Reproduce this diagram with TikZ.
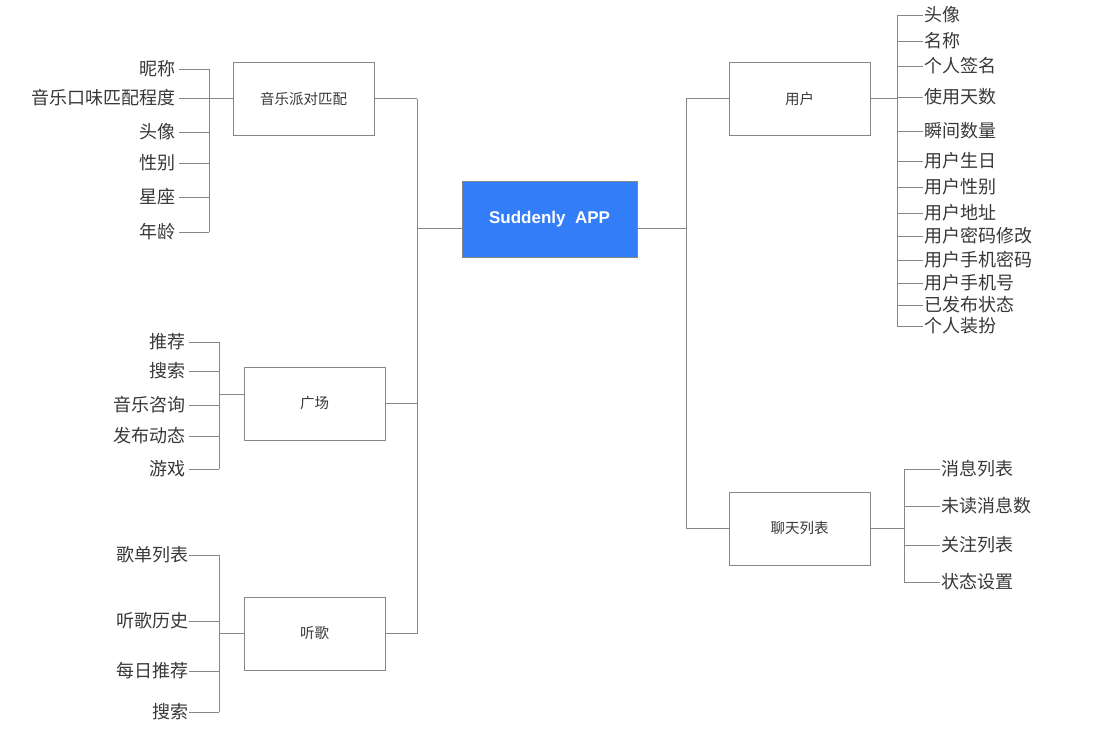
\documentclass[tikz,border=0pt]{standalone}
\usepackage{fontspec}
\setmainfont{Noto Sans CJK SC}
\newfontfamily\appfont{Liberation Sans}
\definecolor{linegray}{HTML}{878787}
\definecolor{textgray}{HTML}{383838}
\definecolor{appblue}{HTML}{337DF9}
\tikzset{
	box/.style={draw=linegray, line width=1pt, minimum width=141pt, minimum height=73pt, inner sep=0pt, text=textgray, font=\fontsize{14.5}{16}\selectfont},
	leafL/.style={anchor=east, inner ysep=0pt, inner xsep=3.5pt, text=textgray, font=\fontsize{18}{20}\selectfont},
	leafR/.style={anchor=west, inner ysep=0pt, inner xsep=1pt, text=textgray, font=\fontsize{18}{20}\selectfont},
	conn/.style={draw=linegray, line width=1pt}
}
\begin{document}
\begin{tikzpicture}[x=1pt, y=-1pt]
\useasboundingbox (0,0) rectangle (1098,745);

\node[draw=linegray, fill=appblue, line width=1pt, minimum width=175pt, minimum height=76pt, text=white, font=\appfont\bfseries\fontsize{17}{20}\selectfont] (app) at (549.5,219) {Suddenly~~APP};

\node[box] (party) at (303.5,98.5) {音乐派对匹配};
\node[box] (plaza) at (314.5,403.5) {广场};
\node[box] (listen) at (314.5,633.5) {听歌};
\node[box] (user) at (799.5,98.5) {用户};
\node[box] (chat) at (799.5,528.5) {聊天列表};

\coordinate (spineL) at (417,0);
\coordinate (spineR) at (686,0);
\coordinate (brA) at (209,0);
\coordinate (brB) at (219,0);
\coordinate (brC) at (897,0);
\coordinate (brD) at (904,0);

% Tronco izquierdo
	\draw[conn] ([yshift=-9pt]app.west) -- ([yshift=-9pt]app.west -| spineL);
	\draw[conn] (party.east -| spineL) -- (listen.east -| spineL);
	\foreach \b in {party, plaza, listen}
		\draw[conn] (\b.east) -- (\b.east -| spineL);

% Tronco derecho
	\draw[conn] ([yshift=-9pt]app.east) -- ([yshift=-9pt]app.east -| spineR);
	\draw[conn] (user.west -| spineR) -- (chat.west -| spineR);
	\foreach \b in {user, chat}
		\draw[conn] (\b.west) -- (\b.west -| spineR);

% Hojas: musica
	\foreach \y/\t [count=\i] in {69/昵称, 98/音乐口味匹配程度, 132/头像, 163/性别, 197/星座, 232/年龄} {
		\node[leafL] (pa\i) at (179,\y) {\t};
		\draw[conn] (pa\i.east) -- (pa\i.east -| brA);
	}
	\draw[conn] (pa1.east -| brA) -- (pa6.east -| brA);
	\draw[conn] (party.west) -- (party.west -| brA);

% Hojas: plaza
	\foreach \y/\t [count=\i] in {342/推荐, 371/搜索, 405/音乐咨询, 436/发布动态, 469/游戏} {
		\node[leafL] (pl\i) at (189,\y) {\t};
		\draw[conn] (pl\i.east) -- (pl\i.east -| brB);
	}
	\draw[conn] (pl1.east -| brB) -- (pl5.east -| brB);
	\draw[conn] ([yshift=9pt]plaza.west) -- ([yshift=9pt]plaza.west -| brB);

% Hojas: escuchar
	\foreach \y/\t [count=\i] in {555/歌单列表, 621/听歌历史, 671/每日推荐, 712/搜索} {
		\node[leafL, inner xsep=0pt] (li\i) at (189,\y) {\t};
		\draw[conn] (li\i.east) -- (li\i.east -| brB);
	}
	\draw[conn] (li1.east -| brB) -- (li4.east -| brB);
	\draw[conn] (listen.west) -- (listen.west -| brB);

% Hojas: usuario
	\foreach \y/\t [count=\i] in {15/头像, 41/名称, 66/个人签名, 97/使用天数, 131/瞬间数量, 161/用户生日, 187/用户性别, 213/用户地址, 236/用户密码修改, 260/用户手机密码, 283/用户手机号, 305/已发布状态, 326/个人装扮} {
		\node[leafR] (us\i) at (923,\y) {\t};
		\draw[conn] (us\i.west) -- (us\i.west -| brC);
	}
	\draw[conn] (us1.west -| brC) -- (us13.west -| brC);
	\draw[conn] (user.east) -- (user.east -| brC);

% Hojas: chat
	\foreach \y/\t [count=\i] in {469/消息列表, 506/未读消息数, 545/关注列表, 582/状态设置} {
		\node[leafR] (ch\i) at (940,\y) {\t};
		\draw[conn] (ch\i.west) -- (ch\i.west -| brD);
	}
	\draw[conn] (ch1.west -| brD) -- (ch4.west -| brD);
	\draw[conn] (chat.east) -- (chat.east -| brD);
\end{tikzpicture}
\end{document}
